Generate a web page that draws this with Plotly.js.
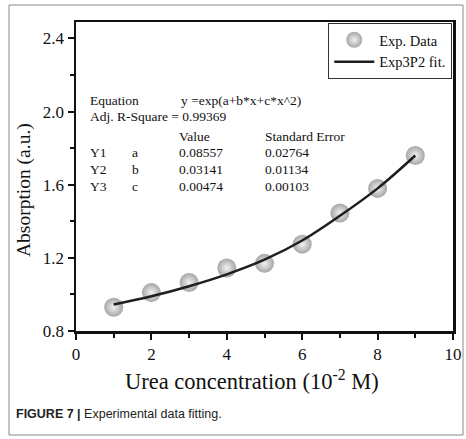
<!DOCTYPE html>
<html>
<head>
<meta charset="utf-8">
<script src="https://cdn.plot.ly/plotly-3.0.1.min.js"></script>
<style>html,body{margin:0;padding:0;background:#fff;}#chart{width:466px;height:439px;}</style>
</head>
<body>
<div id="chart"></div>
<script>
var ureaConc = [1, 2, 3, 4, 5, 6, 7, 8, 9];
var absorption = [0.93, 1.01, 1.065, 1.145, 1.17, 1.275, 1.445, 1.58, 1.76];
// Fit curve values
var fitX = [1, 2, 3, 4, 5, 6, 7, 8, 9];
var fitY = [0.945, 0.99, 1.045, 1.11, 1.19, 1.295, 1.43, 1.58, 1.76];
// Fit report text
var fitRows = [["Y1", "a", "0.08557", "0.02764"], ["Y2", "b", "0.03141", "0.01134"], ["Y3", "c", "0.00474", "0.00103"]];
var seriesNames = ["Exp. Data", "Exp3P2 fit."];
var xTitle = "Urea concentration (10<sup>-2</sup> M)";
var yTitle = "Absorption (a.u.)";

var serif = "Liberation Serif, Times New Roman, serif";

var traces = [
  {
    x: ureaConc, y: absorption, mode: "markers", type: "scatter", name: seriesNames[0],
    marker: {size: 19, color: "#a6a6a6", line: {width: 0}, gradient: {type: "radial", color: "#f2f2f2"}}
  },
  {
    x: fitX, y: fitY, mode: "lines", type: "scatter", name: seriesNames[1],
    line: {color: "#1e1e1e", width: 2.5, shape: "spline", smoothing: 1}
  }
];

// Plot area geometry in px (used for the annotation placement)
var L = 76, R = 453, T = 22, B = 331, W = 466, H = 439;
function px(xp){ return (xp - L) / (R - L); }
function py(yp){ return (B - yp) / (B - T); }

var annotations = [];
function txt(x, y, s, size, font) {
  annotations.push({xref: "paper", yref: "paper", x: px(x), y: py(y), xanchor: "left", yanchor: "middle",
    text: s, showarrow: false, font: {family: font || serif, size: size || 13.5, color: "#111"}});
}
txt(88, 101, "Equation");
txt(179, 101, "y =exp(a+b*x+c*x^2)");
txt(88, 116, "Adj. R-Square = 0.99369");
txt(177, 136, "Value");
txt(263, 136, "Standard Error");
var rowY = [152, 169, 186];
for (var i = 0; i < fitRows.length; i++) {
  txt(88, rowY[i], fitRows[i][0]);
  txt(130, rowY[i], fitRows[i][1]);
  txt(177, rowY[i], fitRows[i][2]);
  txt(263, rowY[i], fitRows[i][3]);
}
annotations.push({xref: "paper", yref: "paper", x: px(14), y: py(414), xanchor: "left", yanchor: "middle",
  text: "<b>FIGURE 7 |</b> Experimental data fitting.", showarrow: false,
  font: {family: "Liberation Sans, Arial, sans-serif", size: 12.5, color: "#222"}});
// axis titles
annotations.push({xref: "paper", yref: "paper", x: px(252), y: py(380), xanchor: "center", yanchor: "middle",
  text: xTitle, showarrow: false, font: {family: serif, size: 22.5, color: "#111"}});
annotations.push({xref: "paper", yref: "paper", x: px(24), y: py(190), xanchor: "center", yanchor: "middle",
  text: yTitle, textangle: -90, showarrow: false, font: {family: serif, size: 19.5, color: "#111"}});

var layout = {
  width: W, height: H,
  margin: {l: L, r: W - R, t: T, b: H - B},
  paper_bgcolor: "#fff", plot_bgcolor: "#fff",
  showlegend: true,
  legend: {x: 0.998, y: 0.997, xanchor: "right", yanchor: "top", bgcolor: "#fff",
    bordercolor: "#333", borderwidth: 1, font: {family: serif, size: 14.5, color: "#111"},
    tracegroupgap: 0, itemwidth: 40},
  xaxis: {
    range: [0, 10], dtick: 2, tick0: 0, ticks: "outside", ticklen: 6, tickwidth: 2, tickcolor: "#111",
    showline: true, linewidth: 2.5, linecolor: "#111", mirror: true, showgrid: false, zeroline: false,
    minor: {ticks: "outside", dtick: 1, ticklen: 4, tickwidth: 2, tickcolor: "#111", showgrid: false},
    tickfont: {family: serif, size: 17, color: "#111"}
  },
  yaxis: {
    range: [0.8, 2.49], dtick: 0.4, tick0: 0.8, ticks: "outside", ticklen: 6, tickwidth: 2, tickcolor: "#111",
    tickformat: ".1f",
    showline: true, linewidth: 2.5, linecolor: "#111", mirror: true, showgrid: false, zeroline: false,
    minor: {ticks: "outside", dtick: 0.2, ticklen: 4, tickwidth: 2, tickcolor: "#111", showgrid: false},
    tickfont: {family: serif, size: 17, color: "#111"}
  },
  annotations: annotations,
  shapes: [{type: "rect", xref: "paper", yref: "paper", x0: px(9), x1: px(463), y0: py(435), y1: py(5),
    line: {color: "#888", width: 1}, layer: "below"}]
};

Plotly.newPlot("chart", traces, layout, {displayModeBar: false, staticPlot: true});
</script>
</body>
</html>
